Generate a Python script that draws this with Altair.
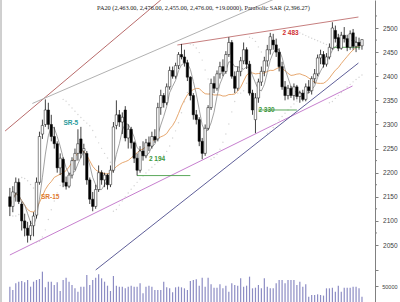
import altair as alt
import pandas as pd

# Daily OHLC bars and volume
opens = [2150, 2130, 2158, 2180, 2135, 2100, 2085, 2070, 2090, 2112,
         2180, 2280, 2300, 2330, 2300, 2275, 2260, 2210, 2228, 2180,
         2172, 2195, 2225, 2240, 2270, 2245, 2240, 2185, 2145, 2130,
         2165, 2200, 2185, 2195, 2175, 2205, 2298, 2320, 2305, 2330,
         2272, 2290, 2262, 2230, 2205, 2245, 2235, 2262, 2255, 2275,
         2270, 2335, 2360, 2345, 2378, 2412, 2400, 2422, 2445, 2440,
         2428, 2398, 2360, 2320, 2310, 2265, 2240, 2292, 2335, 2385,
         2375, 2405, 2420, 2410, 2445, 2470, 2400, 2375, 2410, 2432,
         2455, 2425, 2365, 2310, 2355, 2388, 2410, 2432, 2455, 2475,
         2465, 2450, 2420, 2378, 2360, 2375, 2360, 2378, 2358, 2365,
         2352, 2378, 2370, 2395, 2405, 2438, 2445, 2425, 2440, 2458,
         2495, 2480, 2458, 2485, 2478, 2460, 2490, 2462, 2470, 2463]
highs = [2168, 2172, 2190, 2188, 2140, 2115, 2098, 2100, 2118, 2190,
         2285, 2310, 2352, 2345, 2320, 2295, 2265, 2240, 2232, 2192,
         2200, 2232, 2250, 2290, 2295, 2260, 2245, 2190, 2160, 2175,
         2215, 2205, 2200, 2198, 2215, 2305, 2350, 2330, 2325, 2338,
         2300, 2295, 2265, 2240, 2255, 2265, 2270, 2275, 2285, 2290,
         2345, 2372, 2365, 2385, 2420, 2420, 2428, 2450, 2467, 2455,
         2434, 2400, 2365, 2330, 2315, 2272, 2300, 2340, 2395, 2400,
         2412, 2430, 2435, 2452, 2481, 2475, 2410, 2420, 2440, 2470,
         2460, 2432, 2372, 2365, 2395, 2420, 2440, 2465, 2490, 2488,
         2478, 2458, 2430, 2390, 2382, 2380, 2385, 2382, 2370, 2372,
         2385, 2392, 2400, 2415, 2445, 2455, 2452, 2448, 2468, 2512,
         2505, 2488, 2492, 2502, 2486, 2495, 2498, 2482, 2480, 2476]
lows = [2110, 2118, 2140, 2135, 2080, 2068, 2055, 2060, 2068, 2105,
        2175, 2270, 2295, 2290, 2265, 2250, 2200, 2195, 2170, 2165,
        2168, 2188, 2205, 2225, 2230, 2215, 2175, 2135, 2120, 2125,
        2160, 2175, 2170, 2165, 2170, 2200, 2290, 2295, 2280, 2265,
        2250, 2250, 2220, 2194, 2200, 2225, 2230, 2245, 2250, 2262,
        2265, 2320, 2335, 2340, 2372, 2395, 2395, 2415, 2435, 2420,
        2390, 2350, 2310, 2300, 2255, 2228, 2235, 2288, 2330, 2365,
        2370, 2395, 2400, 2405, 2440, 2395, 2365, 2370, 2400, 2425,
        2415, 2360, 2320, 2282, 2345, 2380, 2400, 2420, 2445, 2455,
        2440, 2410, 2372, 2350, 2352, 2355, 2350, 2352, 2345, 2348,
        2348, 2365, 2362, 2385, 2400, 2425, 2418, 2420, 2435, 2455,
        2470, 2452, 2455, 2470, 2452, 2455, 2455, 2450, 2455, 2455]
closes = [2130, 2160, 2180, 2140, 2100, 2085, 2070, 2090, 2110, 2180,
          2275, 2298, 2330, 2300, 2275, 2260, 2210, 2230, 2180, 2172,
          2195, 2225, 2240, 2260, 2240, 2250, 2185, 2145, 2130, 2165,
          2200, 2185, 2195, 2175, 2205, 2295, 2320, 2305, 2315, 2272,
          2290, 2262, 2230, 2205, 2245, 2235, 2262, 2255, 2275, 2268,
          2335, 2360, 2345, 2378, 2412, 2400, 2422, 2445, 2440, 2428,
          2398, 2360, 2320, 2310, 2265, 2240, 2292, 2335, 2385, 2375,
          2405, 2420, 2410, 2445, 2470, 2400, 2375, 2410, 2432, 2455,
          2425, 2365, 2330, 2355, 2388, 2410, 2432, 2455, 2482, 2465,
          2450, 2420, 2378, 2360, 2375, 2360, 2378, 2358, 2365, 2352,
          2378, 2370, 2395, 2405, 2438, 2445, 2425, 2440, 2460, 2500,
          2478, 2458, 2485, 2478, 2460, 2488, 2462, 2470, 2463, 2476]
volumes = [48000, 37500, 58300, 63500, 65600, 61500, 68800, 47900, 63500, 68800,
           71900, 94800, 45800, 63500, 63500, 53100, 61500, 34400, 68800, 76000,
           63500, 53100, 42700, 32300, 47900, 47900, 84400, 53100, 68800, 76000,
           86500, 74000, 63500, 51000, 34400, 81300, 51000, 47900, 47900, 42700,
           47900, 51000, 47900, 47900, 58300, 27100, 47900, 51000, 47900, 37500,
           37500, 37500, 63500, 45800, 42700, 30200, 45800, 47900, 45800, 42700,
           37500, 65600, 68800, 70800, 51000, 76000, 47900, 76000, 55200, 44800,
           44800, 55200, 42700, 51000, 32300, 58300, 53100, 51000, 74000, 47900,
           51000, 79200, 42700, 44800, 53100, 42700, 74000, 47900, 42700, 42700,
           58300, 68800, 68800, 58300, 68800, 68800, 68800, 53100, 63500, 47900,
           55200, 16700, 21900, 21900, 24000, 21900, 20000, 42700, 42700, 44800,
           32300, 51000, 32300, 44800, 44800, 44800, 47900, 47900, 42700, 16700]

# Price axis: labelled ticks and the unlabelled ticks between them
price_ticks = list(range(2050, 2501, 50))
minor_ticks = list(range(2075, 2551, 50))

# Hand-drawn trend lines: (start bar, start price, end bar, end price, colour)
trend_x1 = [-1.6, 7.6, 56.6, 0.0, 29.0]
trend_p1 = [2286.4, 2343.5, 2464.8, 2029.3, 1998.2]
trend_x2 = [51.0, 95.7, 117.8, 115.8, 117.8]
trend_p2 = [2558.1, 2576.8, 2522.8, 2379.8, 2427.4]
trend_col = ["#b05a5a", "#a8a8a8", "#c07070", "#c070c8", "#4c4c8c"]

# Support levels (green)
level_x1 = [43, 84, 109]
level_x2 = [61, 97, 118.4]
level_p = [2194, 2330, 2460]

# Annotations
note_text = ["2 194", "2 330", "2 483", "SR-5", "SR-15"]
note_x = [47, 84, 92.1, 18.1, 10.5]
note_p = [2228, 2331, 2490, 2303, 2150]
note_col = ["#3c963c", "#3c963c", "#d03030", "#2a9a9a", "#e07a30"]

title = ("PA20 (2,463.00, 2,476.00, 2,455.00, 2,476.00, +19.0000), "
         "Parabolic SAR (2,396.27)")


def parabolic_sar(high, low, step=0.02, max_af=0.2):
    n = len(high)
    sar = [0.0] * n
    up = False
    af = step
    ep = low[0]
    sar[0] = high[0]
    for k in range(1, n):
        prev = sar[k - 1]
        s = prev + af * (ep - prev)
        if up:
            s = min(s, low[k - 1], low[max(k - 2, 0)])
            if low[k] < s:
                up, s, ep, af = False, ep, low[k], step
            elif high[k] > ep:
                ep, af = high[k], min(af + step, max_af)
        else:
            s = max(s, high[k - 1], high[max(k - 2, 0)])
            if high[k] > s:
                up, s, ep, af = True, ep, high[k], step
            elif low[k] < ep:
                ep, af = low[k], min(af + step, max_af)
        sar[k] = s
    return sar


df = pd.DataFrame({"i": list(range(len(opens))), "open": opens, "high": highs,
                   "low": lows, "close": closes, "volume": volumes})
df["sar"] = parabolic_sar(highs, lows)

trend = pd.DataFrame({"x1": trend_x1, "p1": trend_p1, "x2": trend_x2,
                      "p2": trend_p2, "c": trend_col})
levels = pd.DataFrame({"x1": level_x1, "x2": level_x2, "p": level_p})
notes = pd.DataFrame({"t": note_text, "x": note_x, "p": note_p, "c": note_col})
minor = pd.DataFrame({"p": minor_ticks})

W, H = 375, 302
xs = alt.Scale(domain=[-1.645, 121.71], nice=False, zero=False)
ps = alt.Scale(domain=[1931.8, 2558.1], nice=False, zero=False)

price_axis = alt.Axis(
    orient="right", values=price_ticks, format="d",
    labelOverlap=False, labelFlush=False, grid=False, title=None,
    domainColor="#808080", tickColor="#808080",
    tickSize=3, labelColor="#404040", labelFont="Liberation Sans",
    labelFontSize=6.5, labelAlign="right", labelPadding=19, labelBaseline="middle")


def py(field):
    # every price layer shares one scale and the same axis definition
    return alt.Y(field, scale=ps, axis=price_axis)


def px(field):
    return alt.X(field, scale=xs, axis=None)


base = alt.Chart(df)

trend_lines = alt.Chart(trend).mark_rule(strokeWidth=0.9, clip=True).encode(
    x=px("x1:Q"), y=py("p1:Q"), x2="x2:Q", y2="p2:Q",
    color=alt.Color("c:N", scale=None))

wicks = base.mark_rule(color="#111111", strokeWidth=0.8).encode(
    x=px("i:Q"), y=py("low:Q"), y2="high:Q")

bodies = base.mark_bar(width=2.4, stroke="#111111", strokeWidth=0.5).encode(
    x=px("i:Q"), y=py("open:Q"), y2="close:Q",
    fill=alt.condition("datum.close >= datum.open", alt.value("white"), alt.value("black")))

ma5 = base.transform_window(
    ma="mean(close)", frame=[-4, 0], sort=[alt.SortField("i")]
).mark_line(color="#8a8a8a", strokeWidth=0.8).encode(x=px("i:Q"), y=py("ma:Q"))

ma15 = base.transform_window(
    ma="mean(close)", frame=[-14, 0], sort=[alt.SortField("i")]
).mark_line(color="#e0904a", strokeWidth=0.8).encode(x=px("i:Q"), y=py("ma:Q"))

sar_dots = base.mark_circle(size=2, color="#cccccc", opacity=0.85).encode(
    x=px("i:Q"), y=py("sar:Q"))

level_lines = alt.Chart(levels).mark_rule(strokeWidth=0.9, color="#4a9e4a").encode(
    x=px("x1:Q"), x2="x2:Q", y=py("p:Q"))

note_marks = alt.Chart(notes).mark_text(
    align="left", baseline="middle", font="Liberation Sans", fontSize=6.5,
    fontWeight="bold").encode(
    x=px("x:Q"), y=py("p:Q"), text="t:N", color=alt.Color("c:N", scale=None))

minor_marks = alt.Chart(minor).mark_rule(color="#808080", strokeWidth=1).encode(
    x=alt.value(W), x2=alt.value(W + 2), y=py("p:Q"))

price_layer = alt.layer(trend_lines, sar_dots, ma15, ma5, level_lines,
                        wicks, bodies, note_marks, minor_marks)

vol_layer = base.mark_bar(width=1.2, color="#8c8cc4").encode(
    x=px("i:Q"),
    y=alt.Y("volume:Q", scale=alt.Scale(domain=[0, 943750], nice=False),
            axis=alt.Axis(orient="right", values=[50000, 100000], format="d",
                          labelExpr="datum.value === 50000 ? datum.label : ''",
                          labelOverlap=False, grid=False, title=None, domain=False,
                          tickColor="#808080", tickSize=3, labelColor="#404040",
                          labelFont="Liberation Sans", labelFontSize=5.5,
                          labelAlign="right", labelPadding=19,
                          labelBaseline="middle")))

title_mark = alt.Chart(pd.DataFrame({"t": [title]})).mark_text(
    align="left", baseline="middle", font="Liberation Sans Narrow",
    fontSize=6.3, color="#202020").encode(
    x=alt.value(97), y=alt.value(8), text="t:N")

left_edge = alt.Chart(pd.DataFrame({"k": [0]})).mark_rule(
    color="#a0a0a0", strokeWidth=1).encode(
    x=alt.value(1), y=alt.value(0), y2=alt.value(H))

chart = alt.layer(vol_layer, price_layer, title_mark, left_edge).resolve_scale(
    y="independent"
).properties(
    width=W, height=H,
    padding={"left": 0, "top": 0, "right": 25, "bottom": 0},
    autosize=alt.AutoSizeParams(type="none"),
    background="white",
).configure_view(stroke=None).configure_axis(labelOverlap=False)

chart.save("out.html", embed_options={"renderer": "svg", "actions": False})
